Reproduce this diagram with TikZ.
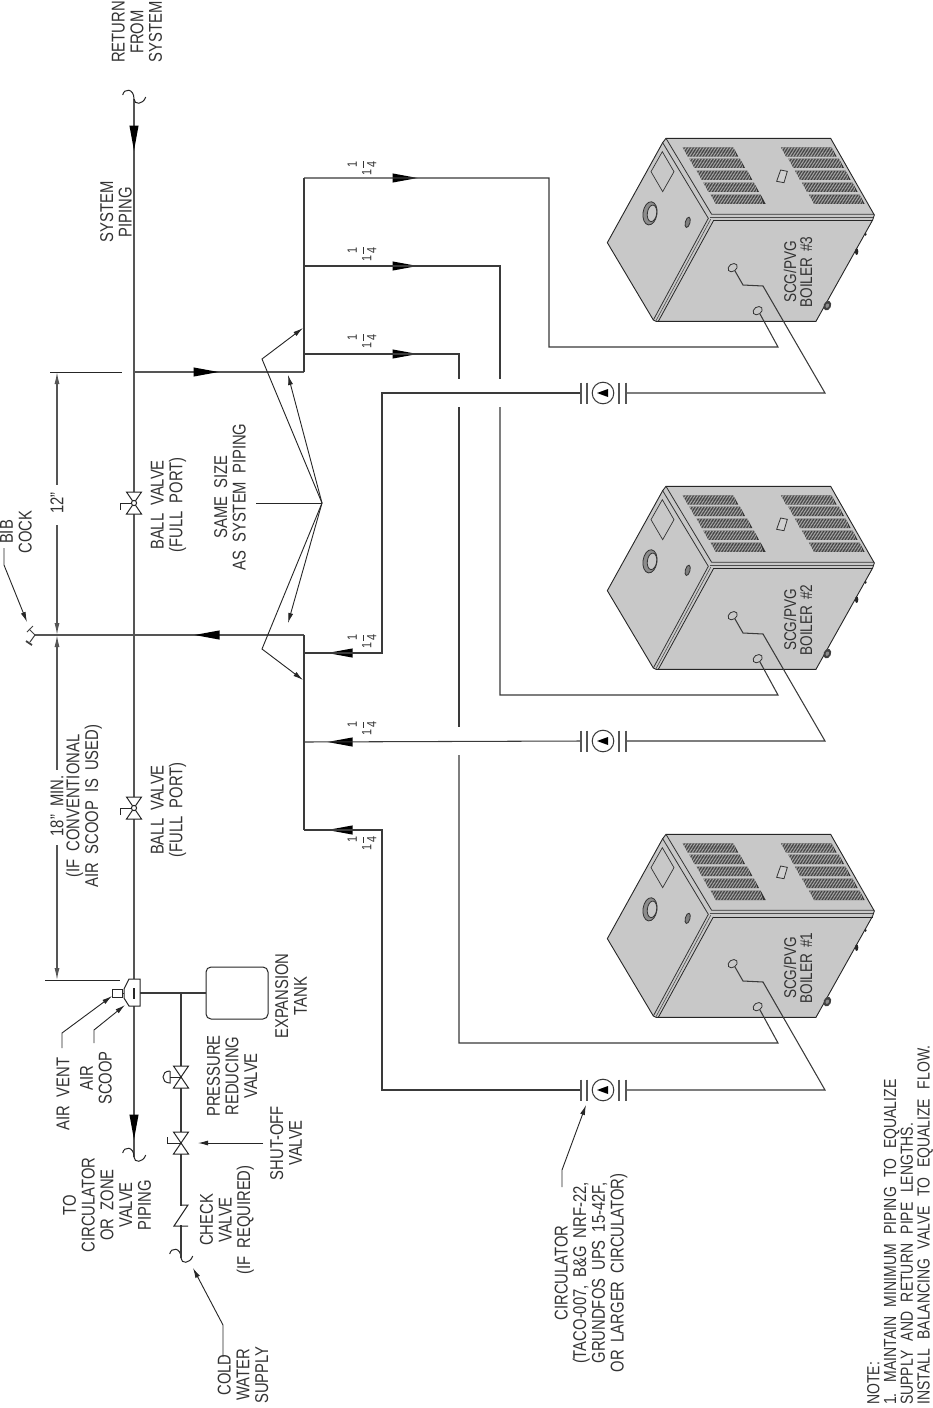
\documentclass[tikz,border=0pt]{standalone}
\usepackage{fontspec}
\setmainfont[FakeStretch=0.8]{Liberation Sans}
\usetikzlibrary{arrows.meta}
\definecolor{txt}{HTML}{333333}
\definecolor{mainc}{HTML}{555555}
\definecolor{pipec}{HTML}{3A3A3A}
\definecolor{boil}{HTML}{C8C8C8}
\newcommand{\oneq}{\fontsize{13.5}{13.5}\selectfont\raisebox{-0.36em}{1}\kern1pt$\displaystyle{\hbox{1}\above0.8pt\hbox{4}}$}
\newcommand{\slat}[3]{%
  \fill[black!80] (#1,#2) -- ++(#3,0) -- ++(15,28) -- ++(-#3,0) -- cycle;
  \foreach \i in {3,7.5,...,#3}{\draw[boil!85!white,line width=0.45pt] (#1+\i,#2) -- (#1+\i+9,#2+28);}
}
\tikzset{
  lbl/.style={rotate=90,align=center,inner sep=0pt,text=txt,font=\fontsize{18.5}{18.7}\selectfont,execute at begin node={\spaceskip=8pt\relax}},
  smalllbl/.style={rotate=90,align=center,inner sep=0pt,text=txt,font=\fontsize{17}{16}\selectfont,execute at begin node={\spaceskip=6pt\relax}},
  notelbl/.style={rotate=90,align=left,anchor=west,inner sep=0pt,text=txt,font=\fontsize{17.5}{16.8}\selectfont,execute at begin node={\spaceskip=9.5pt\relax}},
  fraclbl/.style={rotate=90,inner sep=0pt,text=txt},
  mainpipe/.style={draw=mainc,line width=1.7pt},
  pipe/.style={draw=pipec,line width=1.05pt},
  leader/.style={draw=black!85,line width=0.9pt},
  leadarrow/.style={leader,-{Latex[length=10pt,width=5pt]}},
  dimline/.style={draw=mainc,line width=1.1pt},
  dimarrow/.style={dimline,{Latex[length=12pt,width=5pt]}-},
  valve/.style={draw=black!85,line width=1pt,fill=white},
  flow/.pic={\fill[black] (-12.5,-4.6) -- (12.5,0) -- (-12.5,4.6) -- cycle;},
  breakmark/.pic={\draw[black!85,line width=1pt] (-11.3,-4) .. controls (-10,-11) and (0,-11) .. (0,0) .. controls (0,6) and (9,6) .. (11.7,-2);},
  vbody/.pic={\draw[valve] (-7.5,-11) -- (7.5,-11) -- (-7.5,11) -- (7.5,11) -- cycle;},
  ballhandle/.pic={\draw[black!85,line width=1pt] (0,0) -- (-14,0) -- (-14,7);},
  pumpsym/.pic={
    \draw[pipe,fill=white] (0,0) circle (10.8);
    \fill[black] (-6,0) -- (5,-4) -- (5,4) -- cycle;
    \foreach \bx in {-22,-16,16,23}{\draw[mainc,line width=1.2pt] (\bx,-10.5) -- (\bx,10.5);}
  },
}
\newcommand{\boiler}[2]{%
\begin{scope}[shift={(590,120+#1)},x=0.3333pt,y=-0.3333pt]
  \filldraw[fill=boil,draw=black!85,line width=0.9pt] (228,55) -- (722,55) -- (853,285) -- (848,300) -- (678,604) -- (198,604) -- (190,600) -- (52,368) -- (218,68) -- cycle;
  \draw[black!80,line width=0.8pt] (218,68) -- (355,295) -- (190,600);
  \draw[black!80,line width=0.8pt] (228,55) -- (365,283) -- (853,283);
  \draw[black!70,line width=0.6pt] (360,292) -- (850,292);
  \draw[black!70,line width=0.6pt] (362,298) -- (198,602);
  \draw[black!85,line width=1pt] (370,303) -- (848,303);
  \draw[black!85,line width=0.8pt] (370,303) -- (205,604);
  \draw[black!80,line width=0.7pt] (217,95) -- (252,155) -- (218,215) -- (183,155) -- cycle;
  \draw[black!80,line width=0.8pt,fill=boil!70!black] (180,280) ellipse [x radius=21,y radius=35,rotate=-8];
  \draw[black!80,line width=0.8pt,fill=boil] (186,280) ellipse [x radius=14,y radius=25,rotate=-8];
  \draw[black!80,line width=0.8pt,fill=gray] (293,307) ellipse [x radius=7,y radius=16,rotate=-15];
  \draw[black!80,line width=0.8pt,fill=boil!85!white] (572,150) -- (592,154) -- (582,188) -- (560,184) -- cycle;
  \draw[black!80,line width=0.8pt] (428,443) ellipse [x radius=15,y radius=11,rotate=35];
  \draw[black!80,line width=0.8pt] (503,572) ellipse [x radius=15,y radius=11,rotate=35];
  \fill[black!75] (712,557) ellipse [x radius=11,y radius=15,rotate=-25];
  \fill[boil!70!black] (712,557) ellipse [x radius=5,y radius=7,rotate=-25];
  \fill[black!85] (800,395) ellipse [x radius=5,y radius=10];
  \fill[black!85] (827,343) ellipse [x radius=3,y radius=5];
  \slat{278}{82}{152}\slat{298}{116}{152}\slat{320}{152}{152}\slat{340}{188}{152}\slat{362}{224}{150}
  \slat{573}{82}{152}\slat{595}{116}{152}\slat{615}{152}{152}\slat{636}{188}{152}\slat{657}{224}{152}
\end{scope}
\node[smalllbl] (boilerlabel#2) at (798,272+#1) {SCG/PVG\\BOILER \##2};
}
\begin{document}
\begin{tikzpicture}[x=1pt,y=-1pt]
\useasboundingbox (0,0) rectangle (933,1408);
\fill[white] (0,0) rectangle (933,1408);

\boiler{0}{3}
\boiler{348}{2}
\boiler{696}{1}

% named points
\coordinate (retEnd) at (134,99);
\coordinate (supEnd) at (134,1157);
\coordinate (juncA) at (134,372);
\coordinate (juncB) at (134,635);
\coordinate (bib) at (35,635);
\coordinate (hdrA) at (304,372);
\coordinate (hdrATop) at (304,178);
\coordinate (hdrB) at (304,635);
\coordinate (hdrBBot) at (304,830);
\coordinate (hdrA2) at (304,266);
\coordinate (hdrA1) at (304,354);
\coordinate (hdrB1) at (304,653);
\coordinate (hdrB2) at (304,742);
% main
\draw[mainpipe] (retEnd) -- (supEnd);
\draw[mainpipe] (juncA) -- (hdrA);
\draw[mainpipe] (bib) -- (hdrB);
\draw[pipe] (hdrATop) -- (hdrA);
\draw[pipe] (hdrB) -- (hdrBBot);

\pic at (134,99) {breakmark};
\pic at (134,1157) {breakmark};
\pic at (181,1258) {breakmark};

% flow arrows
\pic[rotate=-90] at (134,138) {flow};
\pic[rotate=-90] at (134,1127) {flow};
\pic at (206,372) {flow};
\pic[rotate=180] at (207,635) {flow};
\pic at (405,178) {flow};
\pic at (405,266) {flow};
\pic at (405,354) {flow};
\pic[rotate=180] at (340,653) {flow};
\pic[rotate=180] at (340,742) {flow};
\pic[rotate=180] at (340,830) {flow};

% supply branches
\coordinate (c3a) at (549,178);\coordinate (c3b) at (549,347);\coordinate (c3c) at (778,347);\coordinate (c3d) at (760,314);
\coordinate (c2a) at (500,266);\coordinate (c2b) at (500,379);\coordinate (c2c) at (500,407);\coordinate (c2d) at (500,695);\coordinate (c2e) at (778,695);\coordinate (c2f) at (760,662);
\coordinate (c1a) at (459,354);\coordinate (c1b) at (459,379);\coordinate (c1c) at (459,407);\coordinate (c1d) at (459,727);\coordinate (c1e) at (459,755);\coordinate (c1f) at (459,1043);\coordinate (c1g) at (778,1043);\coordinate (c1h) at (760,1010);
\draw[pipe] (hdrATop) -- (c3a) -- (c3b) -- (c3c) -- (c3d);
\draw[pipe] (hdrA2) -- (c2a) -- (c2b);
\draw[pipe] (c2c) -- (c2d) -- (c2e) -- (c2f);
\draw[pipe] (hdrA1) -- (c1a) -- (c1b);
\draw[pipe] (c1c) -- (c1d);
\draw[pipe] (c1e) -- (c1f) -- (c1g) -- (c1h);

% return branches with pumps
\coordinate (p3) at (603,393);\coordinate (p2) at (603,741);\coordinate (p1) at (603,1090);
\coordinate (r3a) at (382,653);\coordinate (r3b) at (382,393);\coordinate (r3c) at (581,393);\coordinate (r3d) at (626,393);\coordinate (r3e) at (825,393);\coordinate (r3f) at (763,286);\coordinate (r3g) at (743,285);\coordinate (r3h) at (735,271);
\draw[pipe] (hdrB1) -- (r3a) -- (r3b) -- (r3c);
\draw[pipe] (r3d) -- (r3e) -- (r3f) -- (r3g) -- (r3h);
\coordinate (r2c) at (581,741);\coordinate (r2d) at (626,741);\coordinate (r2e) at (825,741);\coordinate (r2f) at (763,634);\coordinate (r2g) at (743,633);\coordinate (r2h) at (735,619);
\draw[pipe] (hdrB2) -- (r2c);
\draw[pipe] (r2d) -- (r2e) -- (r2f) -- (r2g) -- (r2h);
\coordinate (r1a) at (382,830);\coordinate (r1b) at (382,1090);\coordinate (r1c) at (581,1090);\coordinate (r1d) at (626,1090);\coordinate (r1e) at (825,1090);\coordinate (r1f) at (763,982);\coordinate (r1g) at (743,981);\coordinate (r1h) at (735,967);
\draw[pipe] (hdrBBot) -- (r1a) -- (r1b) -- (r1c);
\draw[pipe] (r1d) -- (r1e) -- (r1f) -- (r1g) -- (r1h);

\pic at (p3) {pumpsym};
\pic at (p2) {pumpsym};
\pic at (p1) {pumpsym};

% 1 1/4 labels
\node[fraclbl] (s1) at (362,168) {\oneq};
\node[fraclbl] (s2) at (362,254) {\oneq};
\node[fraclbl] (s3) at (362,341) {\oneq};
\node[fraclbl] (s4) at (362,641) {\oneq};
\node[fraclbl] (s5) at (362,728) {\oneq};
\node[fraclbl] (s6) at (362,843) {\oneq};

% ball valves
\pic at (134,503) {ballhandle};
\pic at (134,503) {vbody};
\draw[valve] (134,503) circle (2.6);
\pic at (134,808) {ballhandle};
\pic at (134,808) {vbody};
\draw[valve] (134,808) circle (2.6);

% air scoop and vent
\coordinate (scoopR) at (140,993);
\coordinate (tee) at (181,993);
\coordinate (coldEnd) at (181,1258);
\node[draw=black!85,line width=1pt,rounded corners=5pt,minimum width=62pt,minimum height=52pt,inner sep=0pt] (tank) at (237,993) {};
\draw[pipe] (scoopR) -- (tank.west);
\draw[pipe] (tee) -- (coldEnd);
\filldraw[valve] (129,979) -- (140,979) -- (140,1006) -- (129,1006) -- (124,998) -- (124,989) -- cycle;
\draw[black!85,line width=1.2pt] (134,988) -- (134,999);
\node[draw=black!85,line width=1pt,fill=white,minimum width=10pt,minimum height=8pt,inner sep=0pt] (vent) at (117,993) {};
\draw[black!85,line width=1pt] (vent.east) -- (124,993);

% reducing valve
\pic at (181,1077) {vbody};
\draw[black!85,line width=1pt] (181,1077) -- (170,1077);
\draw[black!85,line width=1pt] (170,1071) -- (170,1083) .. controls (165,1083) and (163,1080) .. (163,1077) .. controls (163,1074) and (165,1071) .. (170,1071);
% shut-off valve
\pic at (181,1143) {vbody};
\draw[black!85,line width=1pt] (181,1143) -- (167,1143) -- (167,1137);
% check valve
\fill[white] (178,1206) rectangle (184,1225);
\draw[black!85,line width=1pt] (181,1205) -- (188,1205) -- (174,1226) -- (188,1226);

% bib cock
\draw[black!75,line width=1pt] (35,635) -- (29,629);
\draw[black!75,line width=1pt] (27,632) -- (33,626);
\draw[black!75,line width=1pt] (35,635) -- (30,642);
\draw[black!75,line width=1.8pt] (26,641) -- (32,645);

% dimension lines
\coordinate (extA1) at (50,372);\coordinate (extA2) at (122,372);
\coordinate (extB1) at (45,980);\coordinate (extB2) at (120,980);
\draw[leader] (extA1) -- (extA2);
\draw[leader] (extB1) -- (extB2);
\coordinate (d1) at (57,372);\coordinate (d2) at (57,485);\coordinate (d3) at (57,525);\coordinate (d4) at (57,635);
\coordinate (d5) at (57,770);\coordinate (d6) at (57,845);\coordinate (d7) at (57,980);
\draw[dimarrow] (d1) -- (d2);
\draw[dimarrow] (d4) -- (d3);
\draw[dimarrow] (d4) -- (d5);
\draw[dimarrow] (d7) -- (d6);

% leaders
\coordinate (bibA) at (4,548);\coordinate (bibB) at (4,565);\coordinate (bibC) at (27,622);
\draw[leadarrow] (bibA) -- (bibB) -- (bibC);
\coordinate (ventA) at (62,1048);\coordinate (ventB) at (62,1033);\coordinate (ventC) at (112,996);
\draw[leadarrow] (ventA) -- (ventB) -- (ventC);
\coordinate (scoopA) at (94,1043);\coordinate (scoopB) at (94,1030);\coordinate (scoopC) at (125,1005);
\draw[leadarrow] (scoopA) -- (scoopB) -- (scoopC);
\coordinate (shutA) at (263,1143);\coordinate (shutB) at (198,1143);
\draw[leadarrow] (shutA) -- (shutB);
\coordinate (coldA) at (223,1357);\coordinate (coldB) at (223,1325);\coordinate (coldC) at (193,1268);
\draw[leadarrow] (coldA) -- (coldB) -- (coldC);
\coordinate (circA) at (562,1187);\coordinate (circB) at (562,1170);\coordinate (circC) at (586,1105);
\draw[leadarrow] (circA) -- (circB) -- (circC);
\coordinate (ss0) at (256,503);\coordinate (ss) at (322,503);
\draw[leader] (ss0) -- (ss);
\coordinate (ssA) at (262,359);\coordinate (ssAt) at (303,328);\coordinate (ssBt) at (288,375);
\coordinate (ssC) at (262,649);\coordinate (ssCt) at (303,680);\coordinate (ssDt) at (288,623);
\draw[leadarrow] (ss) -- (ssA) -- (ssAt);
\draw[leadarrow] (ss) -- (ssBt);
\draw[leadarrow] (ss) -- (ssC) -- (ssCt);
\draw[leadarrow] (ss) -- (ssDt);

% texts
\node[lbl] (ret) at (137,32) {RETURN\\FROM\\SYSTEM};
\node[lbl] (syspipe) at (116,212) {SYSTEM\\PIPING};
\node[lbl] (ball1) at (168.5,505) {BALL VALVE\\(FULL PORT)};
\node[lbl] (ball2) at (168.5,810) {BALL VALVE\\(FULL PORT)};
\node[lbl] (same) at (230,497) {SAME SIZE\\AS SYSTEM PIPING};
\node[lbl] (twelve) at (57,503) {12"};
\node[lbl] (bibl) at (16,532) {BIB\\COCK};
\node[lbl] (eighteen) at (57,806) {18" MIN.};
\node[lbl] (ifconv) at (84,806) {(IF CONVENTIONAL\\AIR SCOOP IS USED)};
\node[lbl] (airvent) at (63,1094) {AIR VENT};
\node[lbl] (airscoop) at (96,1078) {AIR\\SCOOP};
\node[lbl] (tocirc) at (107,1205) {TO\\CIRCULATOR\\OR ZONE\\VALVE\\PIPING};
\node[lbl] (check) at (227,1220) {CHECK\\VALVE\\(IF REQUIRED)};
\node[lbl] (prv) at (232,1076) {PRESSURE\\REDUCING\\VALVE};
\node[lbl] (exptank) at (291,996) {EXPANSION\\TANK};
\node[lbl] (shutoff) at (286,1143) {SHUT-OFF\\VALVE};
\node[lbl] (cold) at (243,1375) {COLD\\WATER\\SUPPLY};
\node[lbl] (circl) at (591,1273) {CIRCULATOR\\(TACO-007, B\&G NRF-22,\\GRUNDFOS UPS 15-42F,\\OR LARGER CIRCULATOR)};
\node[notelbl] (note) at (900,1405) {NOTE:\\1. MAINTAIN MINIMUM PIPING TO EQUALIZE\\SUPPLY AND RETURN PIPE LENGTHS.\\INSTALL BALANCING VALVE TO EQUALIZE FLOW.};
\end{tikzpicture}
\end{document}
